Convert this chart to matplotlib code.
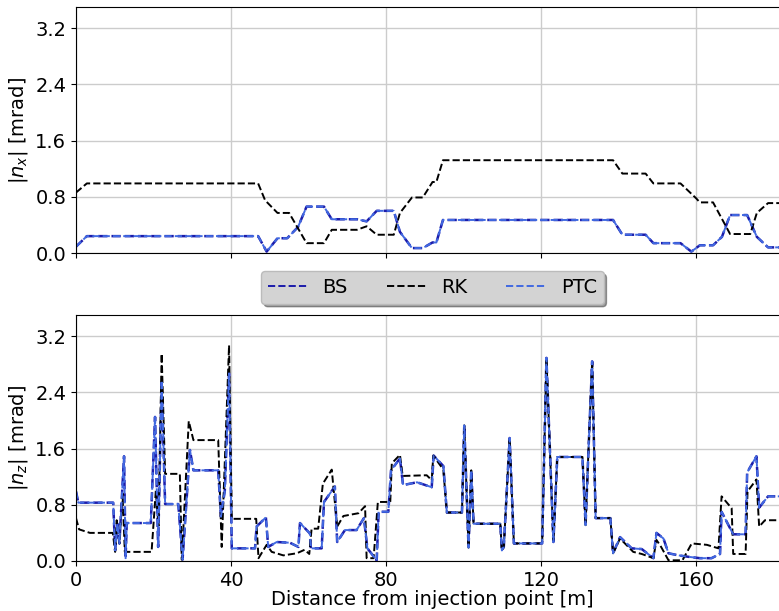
import numpy as np
import matplotlib
matplotlib.use('Agg')
import matplotlib.pyplot as plt

# |n_x| panel (top): BS and PTC coincide
s_top_rk = [0, 2.8, 47, 48.8, 52, 55, 59.5, 64, 66, 72.5, 75, 77.6, 82, 83.6, 86.7, 89.5,
            92, 93, 94.7, 138.6, 141, 147, 149, 156, 160, 161, 164.4, 168.8, 174, 175.7, 178.6, 184]
nx_rk = [0.86, 0.99, 0.99, 0.75, 0.57, 0.57, 0.14, 0.14, 0.33, 0.33, 0.38, 0.26, 0.26, 0.57, 0.79, 0.79,
         1.01, 1.01, 1.32, 1.32, 1.13, 1.13, 0.99, 0.99, 0.78, 0.72, 0.72, 0.27, 0.27, 0.57, 0.71, 0.71]

s_top_bs = [0, 2.8, 47, 49.2, 52, 54.5, 57.3, 59.5, 64, 66, 72.5, 75, 77.6, 82, 83.6, 86.7, 89.5,
            92, 93, 94.7, 138.6, 141, 147, 149, 156, 158.8, 161, 164.4, 166.7, 168.8, 173.2, 175.7, 178.6, 184]
nx_bs = [0.09, 0.24, 0.24, 0.02, 0.21, 0.21, 0.37, 0.66, 0.66, 0.48, 0.48, 0.45, 0.6, 0.6, 0.3, 0.07, 0.07,
         0.15, 0.15, 0.47, 0.47, 0.26, 0.26, 0.14, 0.14, 0.02, 0.11, 0.11, 0.23, 0.54, 0.54, 0.23, 0.08, 0.08]
nx_ptc = list(nx_bs)

# |n_z| panel (bottom)
s_bot_rk = [0, 0.8, 3.6, 9.5, 10.1, 10.5, 11.2, 12.0, 12.6, 19.5, 20.6, 21.3, 22.1, 23.0, 26.8, 27.3,
            29.1, 30.3, 36.7, 37.6, 39.5, 40.2, 46.5, 47.1, 49.2, 50.5, 53.5, 57, 59, 60.2, 60.8, 62.5,
            63.7, 66.0, 67.4, 69, 72.9, 74.6, 75, 76.8, 77.9, 81.1, 81.5, 83.6, 84.3, 90.5, 91.8, 92.2,
            94.8, 95.7, 99.6, 100.2, 101.3, 102, 102.6, 109.5, 109.9, 110.4, 111.9, 113, 120.3, 121.4,
            123.2, 124.2, 130.7, 131.5, 132.2, 133.2, 134.1, 137.9, 138.6, 140.4, 143.8, 146, 149, 149.8,
            151, 152.9, 156.5, 158.9, 162.8, 165.8, 166.6, 169.2, 169.6, 172.8, 173.3, 175.6, 176.3,
            177.8, 184]
nz_rk = [0.61, 0.45, 0.40, 0.40, 0.13, 0.58, 0.25, 0.96, 0.13, 0.13, 1.0, 0.5, 2.95, 1.24, 1.24, 0.02,
         1.99, 1.72, 1.72, 0.2, 3.07, 0.6, 0.6, 0.04, 0.23, 0.13, 0.08, 0.11, 0.16, 0.1, 0.46, 0.46,
         1.1, 1.3, 0.49, 0.64, 0.68, 0.78, 0.04, 0.04, 0.84, 0.84, 1.39, 1.51, 1.21, 1.22, 1.15, 1.5,
         1.3, 0.69, 0.69, 1.93, 0.19, 1.29, 0.53, 0.53, 0.15, 0.2, 1.75, 0.25, 0.25, 2.89,
         0.27, 1.48, 1.48, 0.51, 1.5, 2.84, 0.61, 0.61, 0.11, 0.32, 0.13, 0.1, 0.04, 0.3,
         0.2, 0.01, 0.01, 0.25, 0.23, 0.18, 0.92, 0.75, 0.1, 0.1, 0.99, 1.16, 0.49,
         0.58, 0.58]

s_bot_bs = [0, 0.6, 9.6, 10.1, 10.7, 11.2, 12.4, 12.8, 13.1, 19.3, 20.4, 21.2, 22.1, 23.0, 26.4, 27.5,
            29.4, 30.3, 36.7, 37.4, 38.4, 39.5, 40.2, 46.2, 46.6, 49, 49.6, 51.8, 55.2, 57.4, 57.8, 60.4,
            60.6, 63.4, 64, 66.8, 67.4, 69.4, 72.4, 74.3, 75.2, 77.6, 78.1, 80.6, 81.3, 83.6, 84.4, 88,
            91.8, 92.3, 94.8, 95.7, 99.6, 100.2, 101.3, 102, 102.6, 109.5, 109.9, 110.4, 111.9, 113,
            120.3, 121.4, 123.2, 124.2, 130.7, 131.5, 132.2, 133.2, 134.1, 137.9, 138.6, 140.4, 143.4,
            146, 149, 149.8, 151.6, 152.9, 155.5, 158, 161, 164, 166.2, 166.6, 169.6, 172.8, 173.2,
            175.6, 176.3, 178.6, 184]
nz_bs = [0.99, 0.83, 0.83, 0.15, 0.53, 0.25, 1.49, 0.04, 0.54, 0.54, 2.05, 0.2, 2.57, 0.81, 0.81, 0.02,
         1.58, 1.29, 1.29, 0.63, 1.0, 2.67, 0.18, 0.18, 0.49, 0.62, 0.2, 0.27, 0.26, 0.2, 0.54, 0.39,
         0.18, 0.18, 0.84, 1.06, 0.27, 0.44, 0.44, 0.61, 0.18, 0.01, 0.70, 0.70, 1.29, 1.46, 1.08, 1.12,
         1.05, 1.5, 1.35, 0.69, 0.69, 1.93, 0.19, 1.29, 0.53, 0.53, 0.15, 0.2, 1.75, 0.25,
         0.25, 2.89, 0.27, 1.48, 1.48, 0.51, 1.5, 2.84, 0.61, 0.61, 0.11, 0.34, 0.18,
         0.17, 0.04, 0.4, 0.32, 0.11, 0.08, 0.06, 0.04, 0.04, 0.1, 0.7, 0.38, 0.38, 1.26,
         1.49, 0.76, 0.92, 0.92]
nz_ptc = list(nz_bs)

plt.rcParams['font.size'] = 14

fig = plt.figure(figsize=(7.79, 6.11), dpi=100)
ax1 = fig.add_axes([76 / 779, 1 - 253 / 611, 713 / 779, 246 / 611])
ax2 = fig.add_axes([76 / 779, 1 - 561 / 611, 713 / 779, 246 / 611], sharex=ax1)

c_bs = '#1c1caa'
c_ptc = 'royalblue'

ax1.plot(s_top_bs, nx_bs, '--', color=c_bs, lw=1.8, label='BS')
ax1.plot(s_top_rk, nx_rk, '--', color='black', lw=1.4, label='RK')
ax1.plot(s_top_bs, nx_ptc, '--', color=c_ptc, lw=1.4, label='PTC')

ax2.plot(s_bot_bs, nz_bs, '--', color=c_bs, lw=1.8)
ax2.plot(s_bot_rk, nz_rk, '--', color='black', lw=1.4)
ax2.plot(s_bot_bs, nz_ptc, '--', color=c_ptc, lw=1.4)

for ax in (ax1, ax2):
    ax.set_xlim(0, 184)
    ax.set_ylim(0, 3.5)
    ax.set_yticks([0.0, 0.8, 1.6, 2.4, 3.2])
    ax.set_xticks([0, 40, 80, 120, 160])
    ax.grid(True, color='#cccccc', lw=1)
    ax.set_axisbelow(True)

ax1.tick_params(labelbottom=False)
ax1.set_ylabel(r'$|n_x|$ [mrad]')
ax2.set_ylabel(r'$|n_z|$ [mrad]')
ax2.set_xlabel('Distance from injection point [m]', labelpad=0)

leg = ax1.legend(loc='upper center', bbox_to_anchor=(0.5, -0.035), ncol=3, shadow=True,
                 fancybox=True, facecolor='lightgray', edgecolor='#bbbbbb', framealpha=1,
                 columnspacing=2.0, borderpad=0.35)
for h in leg.get_lines():
    h.set_linewidth(1.4)

fig.savefig('out.png', dpi=100)
